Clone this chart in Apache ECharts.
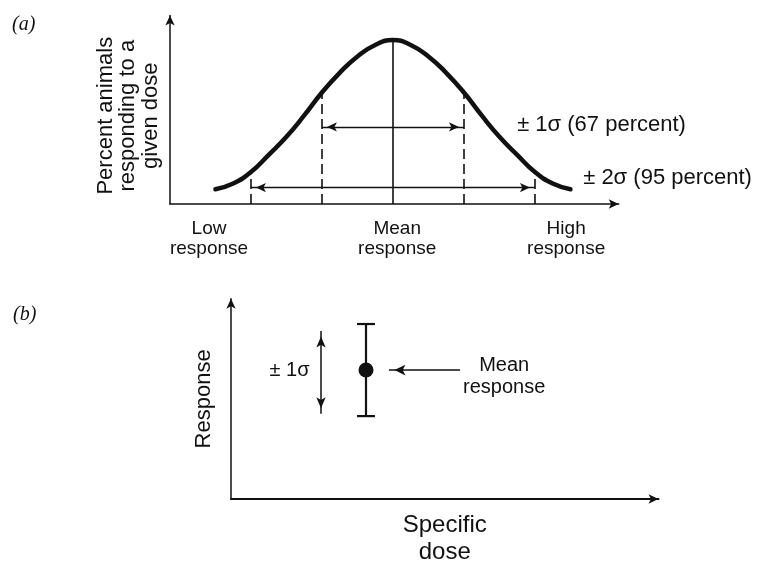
<!DOCTYPE html>
<html>
<head>
<meta charset="utf-8">
<script src="https://cdn.jsdelivr.net/npm/echarts@6/dist/echarts.min.js"></script>
<style>
  html, body { margin: 0; padding: 0; background: #fff; }
  #chart { width: 759px; height: 567px; }
</style>
</head>
<body>
<div id="chart"></div>
<script>
// (a) distribution of responses, dose in units of standard deviation from the mean
const doseSigma = [-2.5, -2.25, -2, -1.75, -1.5, -1.25, -1, -0.75, -0.5, -0.25, 0,
                   0.25, 0.5, 0.75, 1, 1.25, 1.5, 1.75, 2, 2.25, 2.5];
const percentResponding = [9, 12.5, 19.5, 30, 41, 54, 68, 80, 90, 97, 100,
                           97, 90, 80, 68, 54, 41, 30, 19.5, 12.5, 9];
const sigmaMarks = [-2, -1, 0, 1, 2];
const oneSigmaArrowLevel = 47;
const twoSigmaArrowLevel = 10;
const responseTickPositions = [-2.59, 0.06, 2.44];
const responseTickLabels = ['Low\nresponse', 'Mean\nresponse', 'High\nresponse'];
const sigmaNotes = ['\u00b1 1\u03c3 (67 percent)', '\u00b1 2\u03c3 (95 percent)'];
const sigmaNotePositions = [[1.75, 48], [2.68, 16]];

// (b) one dose with its mean response and the ±1σ spread
const specificDose = 3;
const meanResponse = 5.6;
const responseSd = 2;
const sdArrow = [3.7, 7.3];
const pointerFromTo = [5.09, 3.51];

const FONT = '"Liberation Sans", Arial, Helvetica, sans-serif';
const INK = '#111';

function curveAt(x) {
  return percentResponding[doseSigma.indexOf(x)];
}

const arrowEnd = (coord, w, h) => ({
  coord, symbol: 'arrow', symbolSize: [w || 7, h || 10], symbolOffset: [0, (h || 10) / 2]
});
const plainEnd = (coord) => ({ coord, symbol: 'none' });
const solid = (w) => ({ width: w, color: INK, type: 'solid' });

const guideLines = sigmaMarks.map(k => [
  Object.assign(plainEnd([k, 0]), {
    lineStyle: k === 0 ? solid(1.6) : { type: [10, 5], width: 1.6, color: INK }
  }),
  plainEnd([k, curveAt(k)])
]);
const spanArrows = [
  [Object.assign(plainEnd([0, oneSigmaArrowLevel]), { lineStyle: solid(1.3) }), arrowEnd([-1, oneSigmaArrowLevel])],
  [Object.assign(plainEnd([0, oneSigmaArrowLevel]), { lineStyle: solid(1.3) }), arrowEnd([1, oneSigmaArrowLevel])],
  [Object.assign(arrowEnd([-2, twoSigmaArrowLevel]), { lineStyle: solid(1.3) }), arrowEnd([2, twoSigmaArrowLevel])]
];

const bPointers = [
  [Object.assign(arrowEnd([specificDose - 1, sdArrow[0]], 7, 11), { lineStyle: solid(1.5) }),
   arrowEnd([specificDose - 1, sdArrow[1]], 7, 11)],
  [Object.assign(plainEnd([pointerFromTo[0], meanResponse]), { lineStyle: solid(1.6) }),
   arrowEnd([pointerFromTo[1], meanResponse], 8, 11)]
];

const axisLineStyle = (w) => ({
  show: true,
  onZero: false,
  symbol: ['none', 'arrow'],
  symbolSize: [7, 10],
  lineStyle: { color: INK, width: w }
});

const chart = echarts.init(document.getElementById('chart'), null, { renderer: 'canvas' });

chart.setOption({
  backgroundColor: '#ffffff',
  animation: false,
  textStyle: { fontFamily: FONT, color: INK },
  graphic: [
    { type: 'text', left: 12, top: 15,
      style: { text: '(a)', font: 'italic 20px "Liberation Serif", "Times New Roman", serif', fill: INK } },
    { type: 'text', left: 13, top: 305,
      style: { text: '(b)', font: 'italic 20px "Liberation Serif", "Times New Roman", serif', fill: INK } }
  ],
  grid: [
    { left: 170, right: 140.3, top: 15.4, bottom: 363, containLabel: false },
    { left: 231, right: 100.5, top: 298.7, bottom: 66, containLabel: false }
  ],
  xAxis: [
    {
      gridIndex: 0, type: 'value', min: -3.14, max: 3.18,
      axisLine: axisLineStyle(1.5),
      axisTick: { show: false },
      splitLine: { show: false },
      axisLabel: {
        show: true,
        customValues: responseTickPositions,
        margin: 15,
        fontSize: 19,
        lineHeight: 20,
        fontFamily: FONT,
        color: INK,
        formatter: (v) => {
          let best = 0;
          responseTickPositions.forEach((p, i) => {
            if (Math.abs(p - v) < Math.abs(responseTickPositions[best] - v)) best = i;
          });
          return responseTickLabels[best];
        }
      }
    },
    {
      gridIndex: 1, type: 'value', min: 0, max: 9.5,
      axisLine: axisLineStyle(2),
      axisTick: { show: false },
      splitLine: { show: false },
      axisLabel: { show: false },
      name: 'Specific\ndose',
      nameLocation: 'middle',
      nameGap: 13,
      nameTextStyle: { fontSize: 24, lineHeight: 27, fontFamily: FONT, color: INK, verticalAlign: 'top' }
    }
  ],
  yAxis: [
    {
      gridIndex: 0, type: 'value', min: 0, max: 115,
      axisLine: axisLineStyle(1.5),
      axisTick: { show: false },
      splitLine: { show: false },
      axisLabel: { show: false },
      name: 'Percent animals\nresponding to a\ngiven dose',
      nameLocation: 'middle',
      nameRotate: 90,
      nameGap: 8,
      nameTextStyle: { fontSize: 22, lineHeight: 22.5, fontFamily: FONT, color: INK, padding: [0, 12, 0, 0] }
    },
    {
      gridIndex: 1, type: 'value', min: 0, max: 8.7,
      axisLine: axisLineStyle(1.5),
      axisTick: { show: false },
      splitLine: { show: false },
      axisLabel: { show: false },
      name: 'Response',
      nameLocation: 'middle',
      nameRotate: 90,
      nameGap: 16,
      nameTextStyle: { fontSize: 22, fontFamily: FONT, color: INK }
    }
  ],
  series: [
    {
      name: 'distribution',
      type: 'line',
      xAxisIndex: 0, yAxisIndex: 0,
      data: doseSigma.map((x, i) => [x, percentResponding[i]]),
      smooth: 0.5,
      showSymbol: false,
      symbol: 'none',
      lineStyle: { color: INK, width: 4.5, cap: 'round' },
      silent: true,
      z: 3,
      markLine: {
        silent: true,
        animation: false,
        symbol: ['none', 'none'],
        label: { show: false },
        emphasis: { disabled: true },
        data: guideLines.concat(spanArrows)
      }
    },
    {
      name: 'sigma notes',
      type: 'scatter',
      xAxisIndex: 0, yAxisIndex: 0,
      symbolSize: 0,
      silent: true,
      itemStyle: { opacity: 1 },
      data: sigmaNotePositions.map((p, i) => ({ value: p, note: sigmaNotes[i] })),
      label: {
        show: true,
        position: [0, 0],
        align: 'left',
        verticalAlign: 'middle',
        fontSize: 22,
        fontFamily: FONT,
        color: INK,
        formatter: (p) => p.data.note
      }
    },
    {
      name: 'error bar',
      type: 'custom',
      xAxisIndex: 1, yAxisIndex: 1,
      silent: true,
      data: [[specificDose, meanResponse - responseSd, meanResponse + responseSd]],
      renderItem: (params, api) => {
        const top = api.coord([api.value(0), api.value(2)]);
        const bot = api.coord([api.value(0), api.value(1)]);
        const half = 9;
        const style = { stroke: INK, lineWidth: 2.2 };
        return {
          type: 'group',
          children: [
            { type: 'line', shape: { x1: top[0], y1: top[1], x2: bot[0], y2: bot[1] }, style },
            { type: 'line', shape: { x1: top[0] - half, y1: top[1], x2: top[0] + half, y2: top[1] }, style },
            { type: 'line', shape: { x1: bot[0] - half, y1: bot[1], x2: bot[0] + half, y2: bot[1] }, style }
          ]
        };
      }
    },
    {
      name: 'mean response',
      type: 'scatter',
      xAxisIndex: 1, yAxisIndex: 1,
      symbol: 'circle',
      symbolSize: 15,
      itemStyle: { color: INK, opacity: 1 },
      silent: true,
      z: 4,
      data: [[specificDose, meanResponse]],
      markLine: {
        silent: true,
        animation: false,
        symbol: ['none', 'none'],
        label: { show: false },
        emphasis: { disabled: true },
        data: bPointers
      }
    },
    {
      name: 'b notes',
      type: 'scatter',
      xAxisIndex: 1, yAxisIndex: 1,
      symbolSize: 0,
      silent: true,
      itemStyle: { opacity: 1 },
      data: [
        { value: [1.3, meanResponse], note: '\u00b1 1\u03c3' },
        { value: [6.07, 5.34], note: 'Mean\nresponse' }
      ],
      label: {
        show: true,
        position: [0, 0],
        align: 'center',
        verticalAlign: 'middle',
        fontSize: 20,
        lineHeight: 22,
        fontFamily: FONT,
        color: INK,
        formatter: (p) => p.data.note
      }
    }
  ]
});
</script>
</body>
</html>
